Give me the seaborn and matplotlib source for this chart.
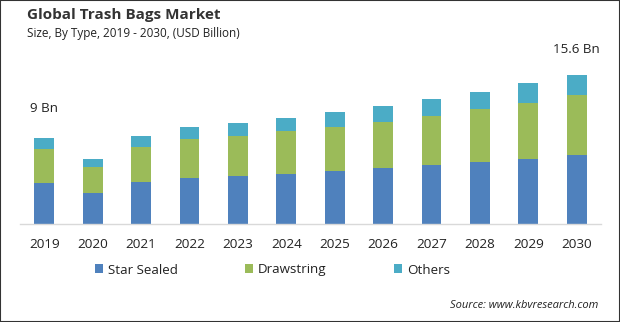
import matplotlib
matplotlib.use("Agg")
import matplotlib.pyplot as plt
import seaborn as sns
import pandas as pd
from matplotlib.patches import Rectangle, Patch

years = ["2019", "2020", "2021", "2022", "2023", "2024",
         "2025", "2026", "2027", "2028", "2029", "2030"]
star_sealed = [4.30, 3.25, 4.40, 4.82, 5.03, 5.24, 5.55, 5.86, 6.18, 6.49, 6.81, 7.23]
drawstring = [3.54, 2.72, 3.70, 4.08, 4.19, 4.50, 4.61, 4.82, 5.13, 5.55, 5.86, 6.28]
others = [1.16, 0.84, 1.12, 1.26, 1.36, 1.36, 1.57, 1.68, 1.78, 1.78, 2.09, 2.09]
series_names = ["Star Sealed", "Drawstring", "Others"]
colors = ["#4f81bd", "#9bbb59", "#4bacc6"]
value_labels = {"2019": "9 Bn", "2030": "15.6 Bn"}

sns.set_theme(style="white")
plt.rcParams["font.family"] = ["Open Sans", "DejaVu Sans"]

W, H = 620, 322
fig = plt.figure(figsize=(W / 100, H / 100), dpi=100)


def fx(px):
    return px / W


def fy(py):
    return 1 - py / H


ax = fig.add_axes([fx(20), fy(224), fx(601) - fx(20), fy(60) - fy(224)])

df = pd.DataFrame({"year": years, "Star Sealed": star_sealed,
                   "Drawstring": drawstring, "Others": others})
bottom = pd.Series([0.0] * len(years))
for name, col in zip(series_names, colors):
    sns.barplot(data=df, x="year", y=name, order=years, color=col,
                width=0.41, bottom=bottom.values, ax=ax, saturation=1,
                edgecolor="none", linewidth=0)
    bottom = bottom + df[name]

totals = bottom.values
for i, yr in enumerate(years):
    if yr in value_labels:
        ax.text(i, totals[i] + (2.4 if i == 0 else 2.0), value_labels[yr],
                ha="center", va="bottom", fontsize=9.6, color="#222222")

ax.set_xlim(-0.5, 11.5)
ax.set_ylim(0, 17.2)
ax.set_xlabel("")
ax.set_ylabel("")
ax.set_yticks([])
ax.tick_params(axis="x", length=0, pad=10, labelsize=9.7, colors="#222222")
for s in ["top", "right", "left"]:
    ax.spines[s].set_visible(False)
ax.spines["bottom"].set_color("#d9d9d9")
ax.spines["bottom"].set_linewidth(1.0)

handles = [Patch(facecolor=c, edgecolor="none") for c in colors]
fig.legend(handles, series_names, ncol=3, loc="center left",
           bbox_to_anchor=(fx(95), fy(270)), frameon=False,
           fontsize=9.6, handlelength=0.62, handleheight=0.62,
           handletextpad=0.35, columnspacing=5.05, borderaxespad=0,
           borderpad=0, labelcolor="#222222")

fig.text(fx(27), fy(15), "Global Trash Bags Market", fontsize=11,
         fontweight="bold", color="#333333", ha="left", va="center")
fig.text(fx(27), fy(34), "Size, By Type, 2019 - 2030, (USD Billion)",
         fontsize=8.5, color="#222222", ha="left", va="center")
fig.text(fx(598), fy(305), "Source: www.kbvresearch.com", fontsize=8.0,
         style="italic", color="#222222", ha="right", va="center")

fig.patches.append(Rectangle((0, 0), 1, 1, transform=fig.transFigure,
                             fill=False, edgecolor="#333333", linewidth=1.5))

fig.savefig("out.png", dpi=100)
